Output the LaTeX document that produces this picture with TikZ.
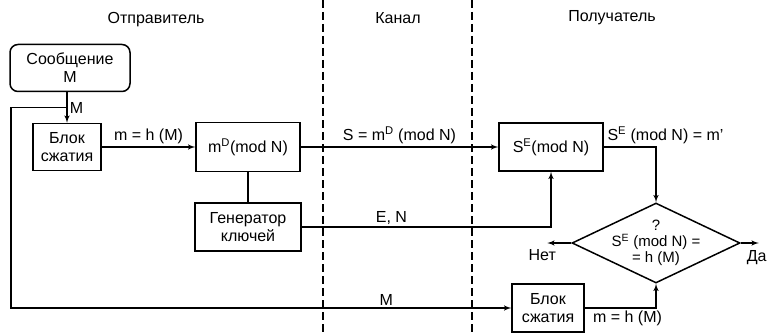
\documentclass[tikz,border=0pt]{standalone}
\usepackage{fontspec}
\setmainfont{Liberation Sans}
\usetikzlibrary{arrows,positioning,shapes.geometric}

\begin{document}
\begin{tikzpicture}[->,>=latex',x=1pt,y=-1pt,line width=1.5pt,font=\fontsize{16}{18}\selectfont,
	block/.style={draw,rectangle,align=center,inner sep=2pt},
	bound/.style={-,dash pattern=on 8pt off 4pt,line width=1.2pt},
	lbl/.style={inner sep=2pt}]
			\useasboundingbox (0,0) rectangle (767,334);

			\node (sender)   at (156,20) {Отправитель};
			\node (channel)  at (398,18) {Канал};
			\node (receiver) at (612,18) {Получатель};
			\draw[bound] (323,0) -- (323,334);
			\draw[bound] (472,0) -- (472,334);

			\node[block,rounded corners=8pt,minimum width=120pt,minimum height=47pt] (msg) at (70,68) {Сообщение\\M};
			\node[block,minimum width=68pt,minimum height=47pt] (blk1) at (67,147) {Блок\\сжатия};
			\node[block,minimum width=104pt,minimum height=49pt] (md) at (248,147) {m\textsuperscript{D}(mod N)};
			\node[block,minimum width=106pt,minimum height=48pt] (gen) [below=30pt of md] {Генератор\\ключей};
			\node[block,minimum width=104pt,minimum height=48pt] (se) at (551,147) {S\textsuperscript{E}(mod N)};
			\node[block,minimum width=72pt,minimum height=48pt] (blk2) at (548,308) {Блок\\сжатия};
			\node[draw,diamond,minimum width=168pt,minimum height=80pt,inner sep=0pt] (chk) at (656,243) {};
			\node[align=center,font=\fontsize{15}{16}\selectfont] (chktxt) at (chk) {?\\S\textsuperscript{E} (mod N) =\\= h (M)};
			\coordinate (corner) at (11,308);

			\draw (msg.south -| blk1) -- node[lbl,right] {M} coordinate (split) (blk1);
			\draw (split) -| (corner) -- node[lbl,pos=0.75,above] {M} (blk2);
			\draw (blk1) -- node[lbl,above] {m = h (M)} (md);
			\draw (md) -- node[lbl,above] {S = m\textsuperscript{D} (mod N)} (se);
			\draw[-] (md) -- (gen);
			\draw (gen) -| node[lbl,pos=0.18,above] {E, N} (se);
			\draw (se) -| node[lbl,pos=0,anchor=south west,xshift=1pt] {S\textsuperscript{E} (mod N) = m'} (chk);
			\draw (blk2) -| node[lbl,pos=0.3,below] {m = h (M)} (chk);
			\draw (chk.west) -- ++(-24,0) node[lbl,below,xshift=-5pt,yshift=-4pt] {Нет};
			\draw (chk.east) -- ++(18,0) node[lbl,below,xshift=-2pt,yshift=-5pt] {Да};
\end{tikzpicture}
\end{document}
